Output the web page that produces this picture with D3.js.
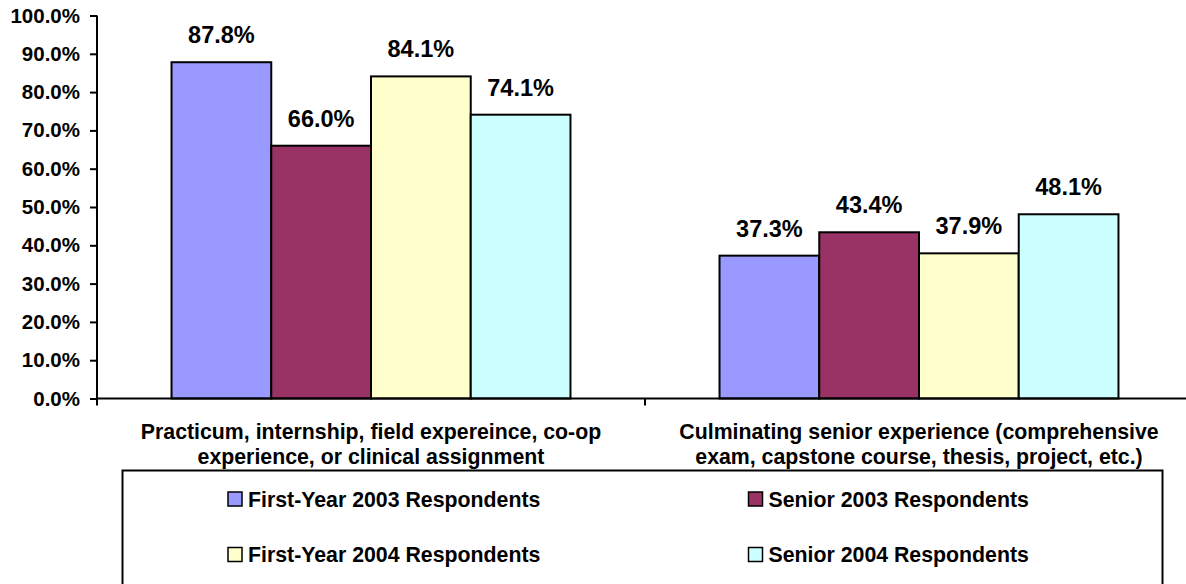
<!DOCTYPE html>
<html>
<head>
<meta charset="utf-8">
<script src="https://cdn.jsdelivr.net/npm/d3@7"></script>
<style>
  html, body { margin: 0; padding: 0; background: #fff; }
  svg { display: block; }
  text { font-family: Arial, "Liberation Sans", sans-serif; font-weight: bold; fill: #000; }
</style>
</head>
<body>
<svg id="chart" width="1186" height="584"></svg>
<script>
// Categories along the x axis (each drawn on two lines)
const categories = [
  ["Practicum, internship, field expereince, co-op", "experience, or clinical assignment"],
  ["Culminating senior experience (comprehensive", "exam, capstone course, thesis, project, etc.)"]
];
const categoryKeys = ["practicum", "culminating"];

// Respondent groups
const seriesNames = [
  "First-Year 2003 Respondents",
  "Senior 2003 Respondents",
  "First-Year 2004 Respondents",
  "Senior 2004 Respondents"
];
const seriesColors = ["#9999FF", "#993366", "#FFFFCC", "#CCFFFF"];

// Percent values, one array per group (practicum, culminating)
const firstYear2003 = [87.8, 37.3];
const senior2003 = [66.0, 43.4];
const firstYear2004 = [84.1, 37.9];
const senior2004 = [74.1, 48.1];
const seriesValues = [firstYear2003, senior2003, firstYear2004, senior2004];

// Y axis ticks
const yTicks = [0, 10, 20, 30, 40, 50, 60, 70, 80, 90, 100];

const svg = d3.select("#chart");

const plotLeft = 97, plotRight = 1193, plotTop = 15.5, plotBottom = 398.5;

const y = d3.scaleLinear().domain([0, 100]).range([plotBottom, plotTop]);

const x0 = d3.scaleBand()
  .domain(categoryKeys)
  .range([plotLeft, plotRight])
  .paddingInner(0.272)
  .paddingOuter(0.136);

const x1 = d3.scaleBand()
  .domain(seriesNames)
  .range([0, x0.bandwidth()]);

// Bars
const groups = svg.append("g").selectAll("g")
  .data(categoryKeys)
  .join("g")
  .attr("transform", d => `translate(${x0(d)},0)`);

groups.selectAll("rect")
  .data((d, i) => seriesNames.map((s, j) => ({ s, j, v: seriesValues[j][i] })))
  .join("rect")
  .attr("x", d => x1(d.s))
  .attr("y", d => y(d.v))
  .attr("width", x1.bandwidth())
  .attr("height", d => y(0) - y(d.v))
  .attr("fill", d => seriesColors[d.j])
  .attr("stroke", "#000")
  .attr("stroke-width", 2);

// Value labels
groups.selectAll("text.val")
  .data((d, i) => seriesNames.map((s, j) => ({ s, j, v: seriesValues[j][i] })))
  .join("text")
  .attr("class", "val")
  .attr("x", d => x1(d.s) + x1.bandwidth() / 2)
  .attr("y", d => y(d.v) - 19)
  .attr("text-anchor", "middle")
  .style("font-size", "23.5px")
  .text(d => d.v.toFixed(1) + "%");

// Y axis
const yAxis = d3.axisLeft(y)
  .tickValues(yTicks)
  .tickSize(7)
  .tickPadding(10)
  .tickFormat(d => d.toFixed(1) + "%");

const gy = svg.append("g")
  .attr("transform", `translate(${plotLeft},0)`)
  .call(yAxis);
gy.select(".domain").attr("stroke", "#000").attr("stroke-width", 2)
  .attr("d", `M0,${plotTop}V${plotBottom + 7}`);
gy.selectAll(".tick line").attr("stroke", "#000").attr("stroke-width", 2);
gy.selectAll(".tick text")
  .style("font-size", "20.5px")
  .style("font-family", "Arial, 'Liberation Sans', sans-serif")
  .style("font-weight", "bold")
  .attr("fill", "#000");

// X axis line with category boundary ticks
const gx = svg.append("g");
gx.append("line")
  .attr("x1", plotLeft).attr("x2", plotRight)
  .attr("y1", plotBottom).attr("y2", plotBottom)
  .attr("stroke", "#000").attr("stroke-width", 2);
gx.selectAll("line.bound")
  .data(categoryKeys.slice(1))
  .join("line")
  .attr("class", "bound")
  .attr("x1", d => x0(d) - x0.step() * x0.paddingInner() / 2)
  .attr("x2", d => x0(d) - x0.step() * x0.paddingInner() / 2)
  .attr("y1", plotBottom).attr("y2", plotBottom + 7)
  .attr("stroke", "#000").attr("stroke-width", 2);

// Category labels
gx.selectAll("text.cat")
  .data(categoryKeys)
  .join("text")
  .attr("class", "cat")
  .attr("text-anchor", "middle")
  .style("font-size", "21.3px")
  .each(function (d, i) {
    const t = d3.select(this);
    const cx = x0(d) + x0.bandwidth() / 2;
    categories[i].forEach((line, k) => {
      t.append("tspan")
        .attr("x", cx)
        .attr("y", 438.5 + k * 25)
        .text(line);
    });
  });

// Legend
const legend = svg.append("g");
legend.append("rect")
  .attr("x", 122.5).attr("y", 470.5)
  .attr("width", 1040).attr("height", 140)
  .attr("fill", "#fff")
  .attr("stroke", "#000").attr("stroke-width", 2);

const legendCols = [228, 748.5];
const legendRows = [492, 547.5];
const items = legend.selectAll("g.item")
  .data(seriesNames)
  .join("g")
  .attr("class", "item")
  .attr("transform", (d, i) => `translate(${legendCols[i % 2]},${legendRows[Math.floor(i / 2)]})`);

items.append("rect")
  .attr("width", 14).attr("height", 14)
  .attr("fill", (d, i) => seriesColors[i])
  .attr("stroke", "#000").attr("stroke-width", 1.5);

items.append("text")
  .attr("x", 20)
  .attr("y", 14.5)
  .style("font-size", "21.3px")
  .text(d => d);
</script>
</body>
</html>
